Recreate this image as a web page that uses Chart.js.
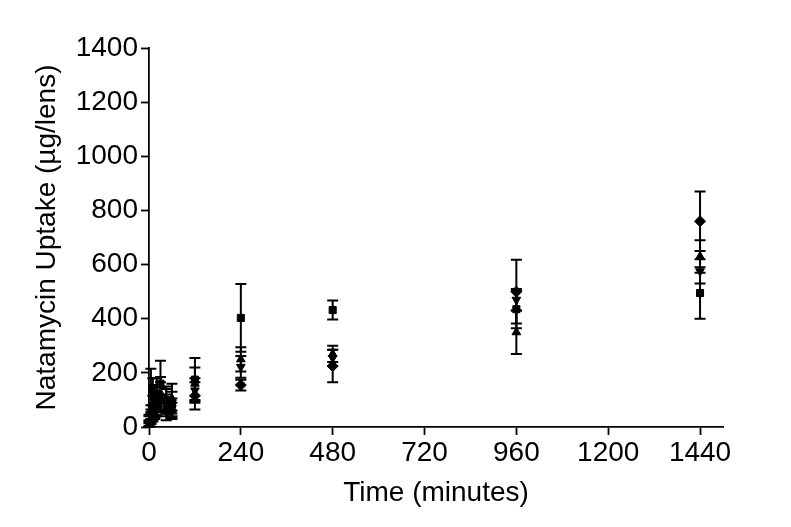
<!DOCTYPE html>
<html>
<head>
<meta charset="utf-8">
<script src="https://cdn.jsdelivr.net/npm/chart.js@4/dist/chart.umd.min.js"></script>
<style>
  html, body { margin: 0; padding: 0; background: #fff; }
  #wrap { width: 791px; height: 527px; }
</style>
</head>
<body>
<div id="wrap"><canvas id="uptakeChart"></canvas></div>
<script>
// Sampling times (minutes)
const times = [0, 5, 10, 15, 20, 30, 45, 60, 120, 240, 480, 960, 1440];

// Mean uptake per lens type and its SD
const squareVals = [20, 140, 70, 95, 120, 160, 100, 85, 175, 403, 432, 435, 495];
const squareErr = [20, 75, 45, 60, 60, 85, 50, 45, 80, 125, 35, 70, 95];
const triUpVals = [30, 55, 120, 85, 105, 125, 95, 105, 160, 250, 270, 350, 630];
const triUpErr = [15, 25, 60, 40, 50, 60, 45, 55, 60, 45, 30, 80, 60];
const triDownVals = [10, 30, 50, 70, 90, 110, 80, 70, 135, 222, 255, 470, 575];
const triDownErr = [10, 20, 30, 35, 45, 55, 40, 35, 45, 40, 30, 40, 45];
const diamondVals = [15, 35, 55, 60, 80, 100, 60, 60, 115, 155, 225, 500, 760];
const diamondErr = [10, 20, 25, 30, 40, 45, 35, 30, 50, 20, 60, 118, 110];

const xTicks = [0, 240, 480, 720, 960, 1200, 1440];
const yTicks = [0, 200, 400, 600, 800, 1000, 1200, 1400];

function toPoints(vals, errs) {
    return times.map((t, i) => ({ x: t, y: vals[i], err: errs[i] }));
}

function series(label, vals, errs, style, rotation) {
    return {
        label: label,
        data: toPoints(vals, errs),
        pointStyle: style,
        rotation: rotation || 0,
        pointRadius: style === 'rectRot' ? 5.5 : 5,
        backgroundColor: '#000',
        borderColor: '#000',
        showLine: false
    };
}

// Draws vertical error bars with caps
const errorBars = {
    id: 'errorBars',
    beforeDatasetsDraw(chart) {
        const ctx = chart.ctx;
        const xs = chart.scales.x, ys = chart.scales.y;
        ctx.save();
        ctx.strokeStyle = '#000';
        ctx.lineWidth = 2;
        chart.data.datasets.forEach(ds => {
            ds.data.forEach(p => {
                const px = xs.getPixelForValue(p.x);
                const top = ys.getPixelForValue(p.y + p.err);
                const bot = ys.getPixelForValue(Math.max(p.y - p.err, 0));
                ctx.beginPath();
                ctx.moveTo(px, top); ctx.lineTo(px, bot);
                ctx.moveTo(px - 5.5, top); ctx.lineTo(px + 5.5, top);
                ctx.moveTo(px - 5.5, bot); ctx.lineTo(px + 5.5, bot);
                ctx.stroke();
            });
        });
        ctx.restore();
    }
};

const tickFont = { family: 'Liberation Sans, Arial, sans-serif', size: 28 };
const titleFont = { family: 'Liberation Sans, Arial, sans-serif', size: 28 };

new Chart(document.getElementById('uptakeChart'), {
    type: 'scatter',
    data: {
        datasets: [
            series('Square', squareVals, squareErr, 'rect'),
            series('Triangle', triUpVals, triUpErr, 'triangle'),
            series('Inverted triangle', triDownVals, triDownErr, 'triangle', 180),
            series('Diamond', diamondVals, diamondErr, 'rectRot')
        ]
    },
    options: {
        responsive: true,
        maintainAspectRatio: false,
        animation: false,
        layout: { padding: { top: 48, right: 68, left: 0, bottom: 0 } },
        plugins: { legend: { display: false }, tooltip: { enabled: false } },
        scales: {
            x: {
                type: 'linear',
                min: 0,
                max: 1500,
                afterBuildTicks: axis => { axis.ticks = xTicks.map(v => ({ value: v })); },
                afterFit: axis => { axis.height = 100; },
                grid: { drawOnChartArea: false, color: '#000', tickLength: 8, tickWidth: 1.8 },
                border: { color: '#000', width: 1.8 },
                ticks: { color: '#000', font: tickFont, padding: 1, maxRotation: 0, callback: v => String(v) },
                title: { display: true, text: 'Time (minutes)', color: '#000', font: titleFont, padding: { top: 0, bottom: 17 } }
            },
            y: {
                min: 0,
                max: 1400,
                afterBuildTicks: axis => { axis.ticks = yTicks.map(v => ({ value: v })); },
                afterFit: axis => { axis.width = 149; },
                grid: { drawOnChartArea: false, color: '#000', tickLength: 8, tickWidth: 1.8 },
                border: { color: '#000', width: 1.8 },
                ticks: { color: '#000', font: tickFont, padding: 3, callback: v => String(v) },
                title: { display: true, text: 'Natamycin Uptake (µg/lens)', color: '#000', font: titleFont, padding: { top: 30, bottom: 0 } }
            }
        }
    },
    plugins: [errorBars]
});
</script>
</body>
</html>
